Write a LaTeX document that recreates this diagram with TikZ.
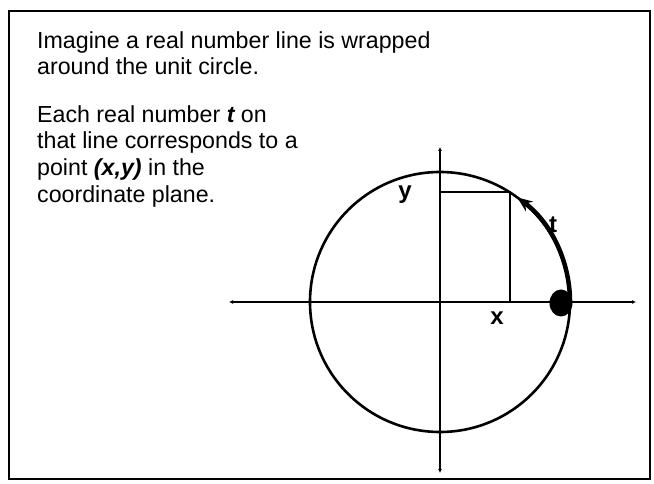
\documentclass[tikz,border=0pt]{standalone}
\usepackage{fontspec}
\setmainfont{Liberation Sans}
\usetikzlibrary{arrows.meta}

\begin{document}
\begin{tikzpicture}[x=1pt, y=1pt, line cap=round,
    every node/.style={font=\fontsize{23.2}{26.8}\selectfont, inner sep=0pt},
    axis/.style={line width=1.2pt, {Latex[length=4pt,width=4pt]}-{Latex[length=4pt,width=4pt]}},
    axlabel/.style={font=\fontsize{24}{24}\selectfont\bfseries}]
  \useasboundingbox (0,0) rectangle (654,484);
  \draw[line width=1.6pt] (9,5) rectangle (650,473);
  \node[anchor=north west, align=left] (intro) at (37,453)
    {Imagine a real number line is wrapped\\around the unit circle.};
  \node[anchor=north west, align=left] (each) at (37,379)
    {Each real number {\bfseries\itshape t} on\\that line corresponds to a\\point {\bfseries\itshape (x,y)} in the\\coordinate plane.};
  \coordinate (O) at (440,182);
  \coordinate (W) at (229,182); \coordinate (E) at (636,182);
  \coordinate (S) at (440,11);  \coordinate (N) at (440,337);
  \coordinate (P) at (509.6,291.8);
  \coordinate (Px) at (P |- O); \coordinate (Py) at (P -| O);
  \draw[axis] (W) -- (E);
  \draw[axis] (S) -- (N);
  \draw[line width=2.6pt] (O) circle[radius=130];
  \draw[line width=1.8pt] (Py) -- (P) -- (Px);
  \draw[line width=4.5pt, -{Stealth[length=15pt,width=12pt]}] (570,182) arc (0:53.5:130);
  \fill (561,181) ellipse[x radius=11.5, y radius=13.5];
  \node[axlabel] (ylab) at (405,289) {y};
  \node[axlabel] (xlab) at (497,166) {x};
  \node[axlabel] (tlab) at (553,259) {t};
\end{tikzpicture}
\end{document}
